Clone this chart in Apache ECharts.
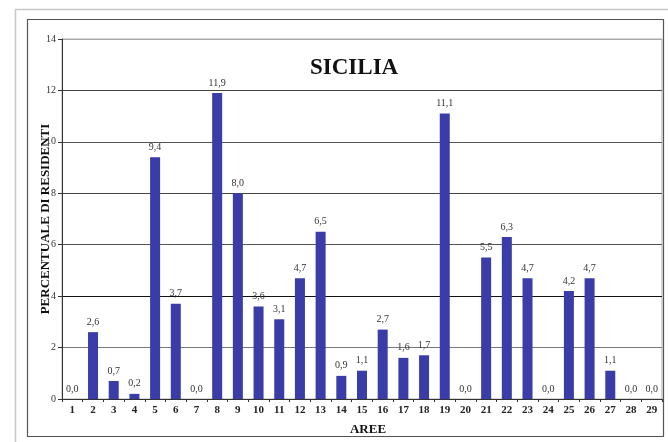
<!DOCTYPE html>
<html>
<head>
<meta charset="utf-8">
<script src="https://cdn.jsdelivr.net/npm/echarts@6/dist/echarts.min.js"></script>
<style>
html,body{margin:0;padding:0;background:#fff;}
#chart{width:668px;height:442px;}
</style>
</head>
<body>
<div id="chart"></div>
<script>
const categories = ['1','2','3','4','5','6','7','8','9','10','11','12','13','14','15','16','17','18','19','20','21','22','23','24','25','26','27','28','29'];
const values = [0.0, 2.6, 0.7, 0.2, 9.4, 3.7, 0.0, 11.9, 8.0, 3.6, 3.1, 4.7, 6.5, 0.9, 1.1, 2.7, 1.6, 1.7, 11.1, 0.0, 5.5, 6.3, 4.7, 0.0, 4.2, 4.7, 1.1, 0.0, 0.0];
const titleText = 'SICILIA';
const yAxisName = 'PERCENTUALE DI RESIDENTI';
const xAxisName = 'AREE';

const serif = '"Liberation Serif", "DejaVu Serif", serif';
const chart = echarts.init(document.getElementById('chart'), null, {renderer: 'canvas'});
chart.setOption({
  backgroundColor: '#fff',
  animation: false,
  graphic: [
    {type: 'rect', shape: {x: 15.5, y: 9.5, width: 660, height: 440}, style: {fill: 'none', stroke: '#c8c8c8', lineWidth: 1.5}, z: -10},
    {type: 'rect', shape: {x: 27.5, y: 19.5, width: 636, height: 417}, style: {fill: 'none', stroke: '#555', lineWidth: 1.2}, z: -10}
  ],
  title: {
    text: titleText,
    left: 305, top: 52,
    textStyle: {fontFamily: serif, fontWeight: 'bold', fontSize: 23, color: '#111'}
  },
  grid: {left: 62, right: 6, top: 39, bottom: 43, show: true, borderColor: '#aaa', borderWidth: 1},
  xAxis: {
    type: 'category',
    data: categories,
    name: xAxisName,
    nameLocation: 'middle',
    nameGap: 24,
    nameMoveOverlap: false,
    nameTextStyle: {fontFamily: serif, fontWeight: 'bold', fontSize: 13, color: '#111', padding: [0, 0, 0, 12]},
    axisLine: {lineStyle: {color: '#333', width: 1}},
    axisTick: {show: true, length: 3, lineStyle: {color: '#333'}},
    axisLabel: {fontFamily: serif, fontWeight: 'bold', fontSize: 11, color: '#222', margin: 6}
  },
  yAxis: {
    type: 'value',
    min: 0, max: 14, interval: 2,
    name: yAxisName,
    nameLocation: 'middle',
    nameGap: 10,
    nameMoveOverlap: false,
    nameTextStyle: {fontFamily: serif, fontWeight: 'bold', fontSize: 13, color: '#111'},
    axisLine: {show: true, lineStyle: {color: '#333', width: 1}},
    axisTick: {show: true, length: 4, lineStyle: {color: '#333'}},
    axisLabel: {fontFamily: serif, fontSize: 10, color: '#333', margin: 6},
    splitLine: {show: true, lineStyle: {color: ['#666', '#777', '#111', '#555', '#444', '#555', '#444', '#aaa'], width: 1}}
  },
  series: [{
    type: 'bar',
    data: values,
    barWidth: 10,
    itemStyle: {color: '#3a3ca8'},
    label: {
      show: true, position: 'top', distance: 5,
      fontFamily: serif, fontSize: 10, color: '#333',
      formatter: p => p.value.toFixed(1).replace('.', ',')
    }
  }]
});
</script>
</body>
</html>
